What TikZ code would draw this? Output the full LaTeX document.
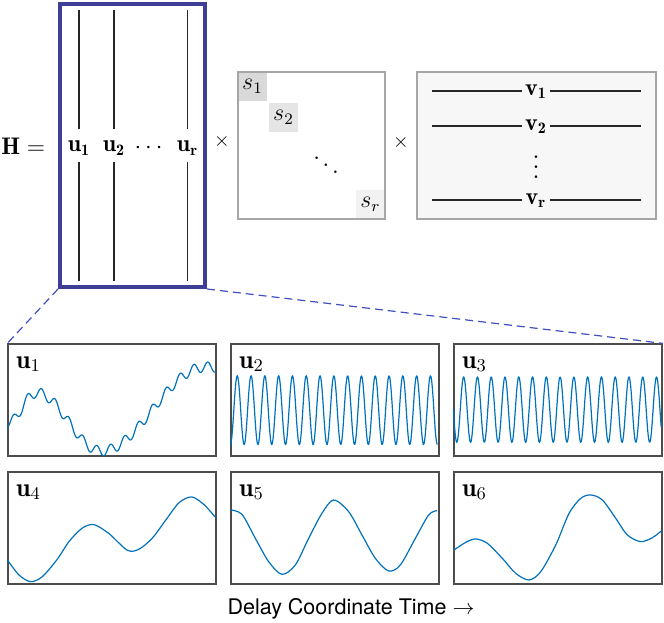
\documentclass[tikz,border=0pt]{standalone}
\usepackage{amsmath}
\usepackage{amssymb}
\usepackage{fontspec}
\setsansfont{TeX Gyre Heros}
\usepackage{tikz}
\usetikzlibrary{calc, positioning}

\definecolor{ublue}{RGB}{62,62,150}
\definecolor{dashblue}{RGB}{64,80,192}
\definecolor{waveblue}{RGB}{0,114,189}

\tikzset{
	panel/.style={draw=black!70, line width=0.65pt, minimum width=104pt, minimum height=56pt, inner sep=0pt},
	waveline/.style={draw=waveblue, line width=0.6pt, line join=round},
	plabel/.style={anchor=base west, inner sep=0pt, font=\fontsize{13}{15}\selectfont},
	colline/.style={draw=black!85, line width=0.6pt},
	mbox/.style={draw=black!35, line width=0.6pt, inner sep=0pt},
	sentry/.style={minimum size=14.5pt, inner sep=0pt, font=\large},
	vlabel/.style={anchor=mid, inner sep=1.5pt, font=\large},
	zoomline/.style={draw=dashblue, line width=0.6pt, dash pattern=on 4pt off 2.5pt}
}

\begin{document}
\begin{tikzpicture}[x=0.5pt, y=0.5pt]
	\useasboundingbox (0,0) rectangle (664,622);

	% U matrix
	\node[anchor=east, inner sep=0pt, font=\large] (H) at (45.5,476) {$\mathbf{H} =$};
	\node[draw=ublue, line width=2pt, minimum width=72.5pt, minimum height=141.5pt] (U) at (132.5,476.5) {};
	\node[font=\large] (u1) at (79,474) {$\mathbf{u_1}$};
	\node[font=\large] (u2) at (114,474) {$\mathbf{u_2}$};
	\node[font=\large] (udots) at (150.5,474) {$\cdots$};
	\node[font=\large] (ur) at (187.5,474) {$\mathbf{u_r}$};
	\foreach \n in {u1,u2,ur} {
		\draw[colline, shorten <=9.5pt, shorten >=4pt] (\n.center) -- (\n |- U.north);
		\draw[colline, shorten <=7pt, shorten >=4pt] (\n.center) -- (\n |- U.south);
	}
	\node (x1) at (222,480) {$\times$};

	% Sigma matrix
	\node[sentry, fill=gray!30] (s1) at (252.5,535.5) {$s_1$};
	\node[sentry, fill=gray!20] (s2) at (283.5,504.5) {$s_2$};
	\node[sentry, fill=gray!10] (sr) at (370.5,417.5) {$s_r$};
	\node[inner sep=0pt, scale=1.2] (sdots) at (326,464) {$\ddots$};
	\node[mbox, minimum size=73.5pt] (S) at (311.5,476.5) {};
	\node (x2) at (401,479) {$\times$};

	% V matrix
	\node[mbox, fill=black!3, minimum width=119.5pt, minimum height=73.5pt] (V) at (536.5,476.5) {};
	\node[vlabel] (v1) at (536,531) {$\mathbf{v_1}$};
	\node[vlabel] (v2) at (536,496) {$\mathbf{v_2}$};
	\node[vlabel] (vr) at (536,422) {$\mathbf{v_r}$};
	\node[inner sep=0pt, scale=1.25] (vdots) at (536,462.5) {$\vdots$};
	\foreach \n in {v1,v2,vr} {
		\draw[colline, shorten >=8pt] (\n.mid west) -- (\n.mid west -| V.west);
		\draw[colline, shorten >=8pt] (\n.mid east) -- (\n.mid east -| V.east);
	}

	% modes
	\foreach \i/\x/\y in {1/112/222, 2/335/222, 3/558/222, 4/112/94, 5/335/94, 6/558/94}
		\node[panel] (P\i) at (\x,\y) {};

	\begin{scope}[shift={(P1.south west)}]
		\draw[waveline] plot[domain=0:1, samples=300] ({208*\x}, {112*(((\x<0.14) ? (0.3+0.135*(1-cos(180*\x/0.14))) : ((\x<0.45) ? (0.57-0.26*(1-cos(180*(\x-0.14)/0.31))) : (0.05+0.375*(1-cos(180*min((\x-0.45)/0.5,1)))))) + 0.045*sin(5400*\x-72))});
	\end{scope}
	\begin{scope}[shift={(P2.south west)}]
		\draw[waveline] plot[domain=0:1, samples=300] ({207*\x}, {112*(0.415-0.308*cos(5400*\x))});
	\end{scope}
	\begin{scope}[shift={(P3.south west)}]
		\draw[waveline] plot[domain=0:1, samples=300] ({208*\x}, {112*(0.42-0.293*sin(5436*\x))});
	\end{scope}
	\begin{scope}[shift={(P4.south west)}]
		\draw[waveline] plot[smooth] coordinates {(0,24.8) (11.6,9.7) (23.3,3) (35,8) (50,25.5) (61.8,43.3) (75,56.6) (86.7,60) (101.7,51) (120,34.4) (131.7,35.5) (145,46.6) (158.3,64.4) (171.7,82) (184.4,87.7) (196.7,80) (207.7,67.7)};
	\end{scope}
	\begin{scope}[shift={(P5.south west)}]
		\draw[waveline] plot[smooth] coordinates {(0,74.7) (11.6,70.3) (25,46.3) (38.3,23) (51.6,10.3) (65,19.7) (78.3,46.3) (91.6,71.3) (103.3,84.7) (118.3,73) (131.6,49.7) (145,26.3) (158.3,13.7) (170,19.7) (185,46.3) (198.3,69.7) (206.6,74)};
	\end{scope}
	\begin{scope}[shift={(P6.south west)}]
		\draw[waveline] plot[smooth] coordinates {(0.7,34.7) (12.4,42.3) (22.4,45.7) (34,41.3) (49,26.3) (62.4,11.3) (75.7,4.7) (87.4,13) (102.4,39.7) (115.7,71.3) (127.4,86.3) (137.4,89.7) (149,84.7) (162.4,66.3) (174,49.7) (187.4,43) (199,47) (208,53.7)};
	\end{scope}

	\foreach \i in {1,...,6}
		\node[plabel] (l\i) at ($(P\i.north west)+(8.4,-25)$) {$\mathbf{u}_\i$};

	\draw[zoomline] (U.south west) -- (P1.north west);
	\draw[zoomline] (U.south east) -- (P3.north east);

	\node[anchor=base, font=\sffamily\fontsize{10.75}{13}\selectfont] (xlab) at (351,7.7) {Delay Coordinate Time $\rightarrow$};
\end{tikzpicture}
\end{document}
